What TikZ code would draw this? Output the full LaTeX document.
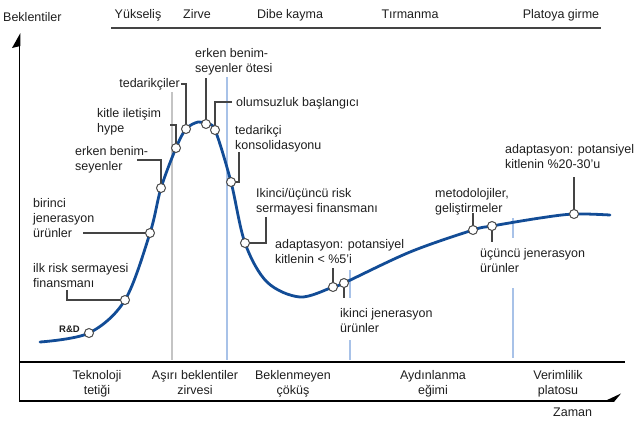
\documentclass[tikz,border=0pt]{standalone}
\usepackage{fontspec}
\setmainfont{Liberation Sans}
\definecolor{txt}{HTML}{1E1E1E}
\definecolor{curvec}{RGB}{18,76,150}
\definecolor{leadc}{HTML}{444444}
\definecolor{dotc}{HTML}{4A4A4A}
\definecolor{grayline}{HTML}{C4C4C4}
\definecolor{blueline}{HTML}{A8C2E8}
\begin{document}
\begin{tikzpicture}[x=1pt,y=-1pt]
\tikzset{
  lbl/.style={font=\fontsize{12.5}{15}\selectfont, text=txt, inner sep=0pt, align=left, anchor=north west},
  hdr/.style={font=\fontsize{12.5}{15}\selectfont, text=txt, inner sep=0pt, anchor=base},
  bot/.style={font=\fontsize{12.5}{15}\selectfont, text=txt, inner sep=0pt, align=center, anchor=north},
  dot/.style={circle, draw=dotc, fill=white, line width=1pt, minimum size=9pt, inner sep=0pt},
  leader/.style={draw=leadc, line width=1.1pt},
  hypecurve/.style={draw=curvec, line width=2.8pt, line cap=round},
  gline/.style={draw=grayline, line width=1.6pt},
  bline/.style={draw=blueline, line width=1.6pt},
  axisline/.style={draw=black, line width=1.8pt},
}
\useasboundingbox (0,0) rectangle (637,424);

% phase separators
\draw[gline] (172,92) -- (172,360);
\draw[bline] (227,77) -- (227,360);
\draw[bline] (350,270) -- (350,298);
\draw[bline] (350,340) -- (350,360);
\draw[bline] (513,218) -- (513,238);
\draw[bline] (513,288) -- (513,358);

% hype curve
\draw[hypecurve] plot[smooth, tension=0.55] coordinates {
 (40,342) (89,333) (125,300) (150,233) (161,188) (176,148) (186,129)
 (198,122) (206,124) (215,130) (231,182) (245,243) (267,282) (300,297)
 (333,287) (344,283) (410,252) (473,230) (492,226) (540,218) (574,214) (610,215)};

% named points on the curve
\coordinate (pRD) at (89,333);
\coordinate (pIlk) at (125,300);
\coordinate (pBir) at (150,233);
\coordinate (pErk) at (161,188);
\coordinate (pKit) at (176,148);
\coordinate (pTed) at (186,129);
\coordinate (pOte) at (206,124);
\coordinate (pOlu) at (215,130);
\coordinate (pKon) at (231,182);
\coordinate (pIkr) at (245,243);
\coordinate (pA5) at (333,287);
\coordinate (pIkj) at (344,283);
\coordinate (pMet) at (473,230);
\coordinate (pUcj) at (492,226);
\coordinate (pA20) at (574,214);

% leader ends
\coordinate (lIlk) at (67,290);
\coordinate (lBir) at (83,233);
\coordinate (lErk) at (137,160);
\coordinate (lKit) at (170,125);
\coordinate (lTed) at (181,84);
\coordinate (lOte) at (206,78);
\coordinate (lOlu) at (232,102);
\coordinate (lKon) at (239,152);
\coordinate (lIkr) at (266,217);
\coordinate (lA5) at (333,268);
\coordinate (lIkj) at (344,298);
\coordinate (lMet) at (473,213);
\coordinate (lUcj) at (492,242);
\coordinate (lA20) at (574,177);

\draw[leader] (lIlk) |- (pIlk);
\draw[leader] (lBir) -- (pBir);
\draw[leader] (lErk) -| (pErk);
\draw[leader] (lKit) -| (pKit);
\draw[leader] (lTed) -| (pTed);
\draw[leader] (lOte) -- (pOte);
\draw[leader] (lOlu) -| (pOlu);
\draw[leader] (lKon) |- (pKon);
\draw[leader] (lIkr) |- (pIkr);
\draw[leader] (lA5) -- (pA5);
\draw[leader] (pIkj) -- (lIkj);
\draw[leader] (lMet) -- (pMet);
\draw[leader] (pUcj) -- (lUcj);
\draw[leader] (lA20) -- (pA20);

% circles
\foreach \p in {pRD,pIlk,pBir,pErk,pKit,pTed,pOte,pOlu,pKon,pIkr,pA5,pIkj,pMet,pUcj,pA20}
  \node[dot] (d\p) at (\p) {};

% labels
\node[lbl, anchor=base west] (tBek) at (3,21) {Beklentiler};
\node[hdr] (hYuk) at (138,18) {Yükseliş};
\node[hdr] (hZir) at (197,18) {Zirve};
\node[hdr] (hDib) at (290,18) {Dibe kayma};
\node[hdr] (hTir) at (410,18) {Tırmanma};
\node[hdr] (hPla) at (561,18) {Platoya girme};

\node[lbl] (tOte) at (195,48) {erken benim-\\seyenler ötesi};
\node[lbl, anchor=base east] (tTed) at (180,87) {tedarikçiler};
\node[lbl] (tKit) at (97,108) {kitle iletişim\\hype};
\node[lbl, anchor=base west] (tOlu) at (236,106) {olumsuzluk başlangıcı};
\node[lbl] (tKon) at (235,125) {tedarikçi\\konsolidasyonu};
\node[lbl] (tErk) at (75,146) {erken benim-\\seyenler};
\node[lbl] (tBir) at (33,198) {birinci\\jenerasyon\\ürünler};
\node[lbl] (tIkr) at (256,188) {Ikinci/üçüncü risk\\sermayesi finansmanı};
\node[lbl] (tA5) at (275,239) {adaptasyon: potansiyel\\kitlenin < \%5'i};
\node[lbl] (tIlk) at (33,263) {ilk risk sermayesi\\finansmanı};
\node[font=\fontsize{9.5}{11}\selectfont\bfseries, text=txt, inner sep=0pt, anchor=base west] (tRD) at (59,332) {R\&D};
\node[lbl] (tIkj) at (340,308) {ikinci jenerasyon\\ürünler};
\node[lbl] (tMet) at (435,188) {metodolojiler,\\geliştirmeler};
\node[lbl] (tUcj) at (480,248) {üçüncü jenerasyon\\ürünler};
\node[lbl] (tA20) at (505,144) {adaptasyon: potansiyel\\kitlenin \%20-30'u};

\node[bot] (bTek) at (97,370) {Teknoloji\\tetiği};
\node[bot] (bAsi) at (195,370) {Aşırı beklentiler\\zirvesi};
\node[bot] (bBek) at (293,370) {Beklenmeyen\\çöküş};
\node[bot] (bAyd) at (433,370) {Aydınlanma\\eğimi};
\node[bot] (bVer) at (558,370) {Verimlilik\\platosu};
\node[lbl, anchor=base west] (tZam) at (553,416) {Zaman};

% axes and rules
\draw[draw=leadc, line width=1.6pt] (111,28) -- (601,28);
\draw[axisline] (19,362) -- (625,362);
\coordinate (yBot) at (19.5,401);
\coordinate (yTop) at (19.5,44);
\coordinate (xEnd) at (612,401);
\draw[axisline] (yTop) -- (yBot) -- (xEnd);
\fill[black] (20.4,33) -- (12,48) -- (20.4,46) -- cycle;
\fill[black] (603,401.9) -- (621,393.5) -- (614,401.9) -- cycle;
\end{tikzpicture}
\end{document}
